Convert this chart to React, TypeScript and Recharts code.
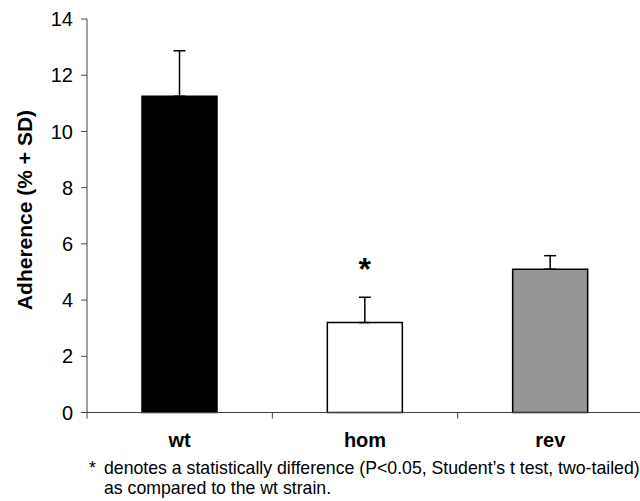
import React from 'react'
import { ComposedChart, Bar, Cell, XAxis, YAxis, ErrorBar, LabelList } from 'recharts'

const categories = ['wt', 'hom', 'rev']
const adherence = [11.25, 3.2, 5.1]
const sdPlus = [1.62, 0.9, 0.48]
const barFills = ['#000000', '#ffffff', '#969696']
const marks = ['', '*', '']
const yTicks = [0, 2, 4, 6, 8, 10, 12, 14]

const font = '"Liberation Sans", Arial, sans-serif'

const data = categories.map((name, i) => ({
  name,
  value: adherence[i],
  err: [0, sdPlus[i]],
  mark: marks[i],
}))

function CategoryTick(props: any) {
  const { x, y, payload } = props
  const half = payload?.offset ?? 92.7
  return (
    <g>
      <line x1={x - half} x2={x - half} y1={y} y2={y + 6} stroke="#404040" strokeWidth={1} />
      <text x={x} y={y + 34} textAnchor="middle" fontFamily={font} fontWeight="bold" fontSize={20} fill="#000">
        {payload.value}
      </text>
    </g>
  )
}

function StarLabel(props: any) {
  const { x, y, width, value } = props
  if (!value) return null
  return (
    <text x={x + width / 2} y={y - 43} textAnchor="middle" fontFamily={font} fontWeight="bold" fontSize={32} fill="#000">
      {value}
    </text>
  )
}

function YTitle() {
  const cx = 24
  const cy = 210
  return (
    <text
      x={cx}
      y={cy}
      transform={`rotate(-90, ${cx}, ${cy})`}
      textAnchor="middle"
      dominantBaseline="central"
      fontFamily={font}
      fontWeight="bold"
      fontSize={21}
      fill="#000"
    >
      Adherence (% + SD)
    </text>
  )
}

export default function App() {
  return (
    <div style={{ position: 'absolute', left: 0, top: 0, width: 640, height: 501, overflow: 'hidden', background: '#fff' }}>
      <ComposedChart width={650} height={501} data={data} margin={{ top: 19, right: 7, left: 0, bottom: 48.5 }}>
        <XAxis
          dataKey="name"
          height={40}
          tickLine={false}
          tickSize={0}
          tickMargin={0}
          axisLine={{ stroke: '#404040' }}
          tick={<CategoryTick />}
          interval={0}
        />
        <YAxis
          width={87}
          domain={[0, 14]}
          ticks={yTicks}
          interval={0}
          tickSize={6}
          tickMargin={8}
          axisLine={{ stroke: '#404040' }}
          tickLine={{ stroke: '#404040' }}
          tick={{ fontFamily: font, fontSize: 20, fill: '#000' }}
          label={<YTitle />}
        />
        <Bar dataKey="value" barSize={75} stroke="#000" strokeWidth={1.5} isAnimationActive={false}>
          {data.map((d, i) => (
            <Cell key={d.name} fill={barFills[i]} />
          ))}
          <ErrorBar dataKey="err" direction="y" width={6} stroke="#000" strokeWidth={1.5} isAnimationActive={false} />
          <LabelList dataKey="mark" content={<StarLabel />} />
        </Bar>
      </ComposedChart>
      <div style={{ position: 'absolute', left: 89, top: 458, fontFamily: font, fontSize: 17.7, lineHeight: '20px', color: '#000', whiteSpace: 'nowrap' }}>
        <div>
          <span style={{ display: 'inline-block', width: 15 }}>*</span>denotes a statistically difference (P&lt;0.05, Student’s t test, two-tailed)
        </div>
        <div style={{ paddingLeft: 15 }}>as compared to the wt strain.</div>
      </div>
    </div>
  )
}
